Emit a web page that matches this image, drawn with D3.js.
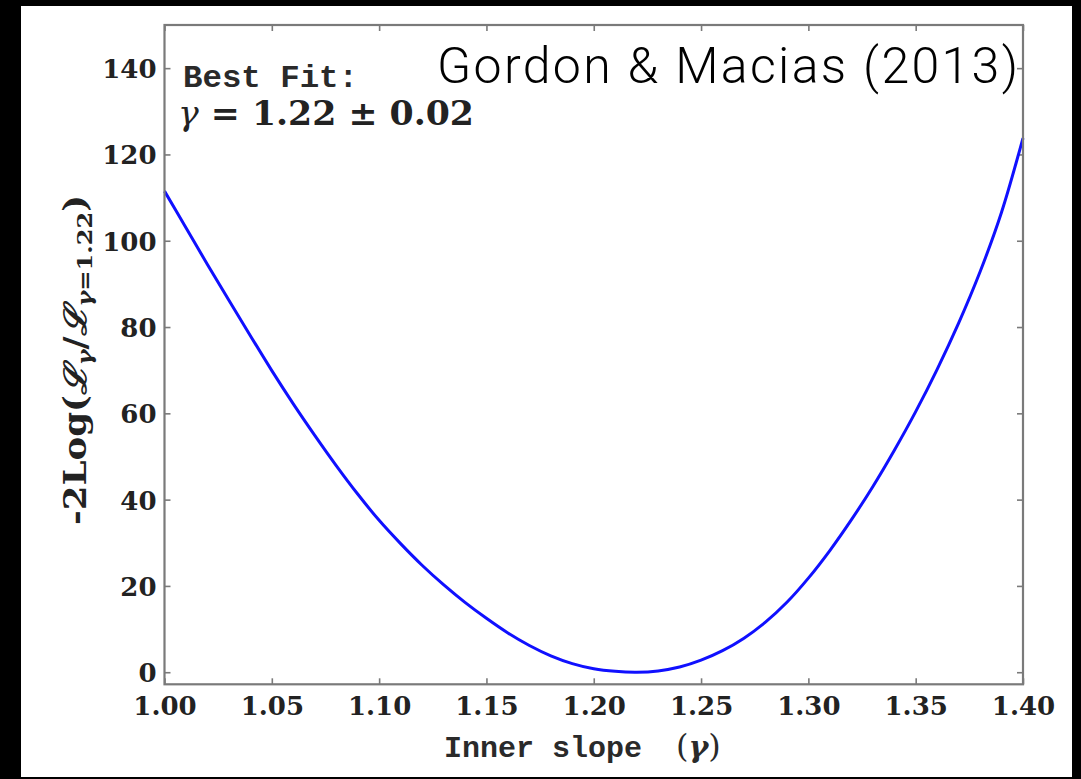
<!DOCTYPE html>
<html>
<head>
<meta charset="utf-8">
<script src="https://cdn.jsdelivr.net/npm/d3@7"></script>
<style>
  html, body { margin: 0; padding: 0; background: #000; }
  svg { display: block; }
</style>
</head>
<body>
<svg id="chart" width="1081" height="779"></svg>
<script>
// Profile likelihood of the inner slope of the dark-matter density profile
const gammaValues = [
  1.00, 1.01, 1.02, 1.03, 1.04, 1.05, 1.06, 1.07, 1.08, 1.09,
  1.10, 1.11, 1.12, 1.13, 1.14, 1.15, 1.16, 1.17, 1.18, 1.19,
  1.20, 1.21, 1.22, 1.23, 1.24, 1.25, 1.26, 1.27, 1.28, 1.29,
  1.30, 1.31, 1.32, 1.33, 1.34, 1.35, 1.36, 1.37, 1.38, 1.39, 1.40
];
const logLikeRatio = [
  111.5, 103.0, 94.5, 86.2, 78.0, 69.9, 62.2, 54.9, 47.9, 41.3,
  35.2, 29.8, 24.8, 20.3, 16.2, 12.5, 9.1, 6.2, 3.8, 2.0,
  0.8, 0.2, 0.0, 0.3, 1.2, 2.8, 5.0, 7.9, 11.6, 16.2,
  21.8, 28.2, 35.3, 43.0, 51.4, 60.4, 70.2, 80.9, 92.8, 106.6, 123.8
];
const xTickValues = [1.00, 1.05, 1.10, 1.15, 1.20, 1.25, 1.30, 1.35, 1.40];
const yTickValues = [0, 20, 40, 60, 80, 100, 120, 140];

const svg = d3.select("#chart");

// white page behind the figure
svg.append("rect").attr("x", 21).attr("y", 6)
  .attr("width", 1051).attr("height", 771).attr("fill", "#fff");

const plot = { left: 164.5, right: 1023, top: 25, bottom: 684.3 };

const x = d3.scaleLinear().domain([1.0, 1.4]).range([plot.left, plot.right]);
const y = d3.scaleLinear().domain([-2.8, 150]).range([plot.bottom, plot.top]);

const tickColor = "#7a7a7a";
const serifFont = "'DejaVu Serif', serif";

function styleAxis(g) {
  g.select(".domain").remove();
  g.selectAll(".tick line").attr("stroke", tickColor).attr("stroke-width", 1.6);
}

// bottom axis with labels
svg.append("g")
  .attr("transform", `translate(0,${plot.bottom})`)
  .call(d3.axisBottom(x).tickValues(xTickValues).tickSizeInner(-6).tickSizeOuter(0)
    .tickPadding(12).tickFormat(d3.format(".2f")))
  .call(styleAxis)
  .call(g => g.selectAll(".tick text")
    .attr("font-family", serifFont).attr("font-weight", "bold")
    .attr("font-size", 26).attr("fill", "#222").attr("dy", "0.71em"));

// top axis, ticks only
svg.append("g")
  .attr("transform", `translate(0,${plot.top})`)
  .call(d3.axisTop(x).tickValues(xTickValues).tickSizeInner(-6).tickSizeOuter(0).tickFormat(""))
  .call(styleAxis);

// left axis with labels
svg.append("g")
  .attr("transform", `translate(${plot.left},0)`)
  .call(d3.axisLeft(y).tickValues(yTickValues).tickSizeInner(-6).tickSizeOuter(0)
    .tickPadding(8).tickFormat(d3.format("d")))
  .call(styleAxis)
  .call(g => g.selectAll(".tick text")
    .attr("font-family", serifFont).attr("font-weight", "bold")
    .attr("font-size", 26).attr("fill", "#222").attr("dy", "0.36em"));

// right axis, ticks only
svg.append("g")
  .attr("transform", `translate(${plot.right},0)`)
  .call(d3.axisRight(y).tickValues(yTickValues).tickSizeInner(-6).tickSizeOuter(0).tickFormat(""))
  .call(styleAxis);

// likelihood curve
const points = gammaValues.map((g, i) => [g, logLikeRatio[i]]);
const line = d3.line().x(d => x(d[0])).y(d => y(d[1])).curve(d3.curveCatmullRom.alpha(0.5));
svg.append("path")
  .datum(points)
  .attr("d", line)
  .attr("fill", "none")
  .attr("stroke", "#1010ff")
  .attr("stroke-width", 3)
  .attr("stroke-linejoin", "round");

// plot frame
svg.append("rect")
  .attr("x", plot.left).attr("y", plot.top)
  .attr("width", plot.right - plot.left).attr("height", plot.bottom - plot.top)
  .attr("fill", "none").attr("stroke", tickColor).attr("stroke-width", 2.2);

// best-fit annotation
svg.append("text")
  .attr("x", 183).attr("y", 87)
  .attr("font-family", "'Liberation Mono', 'DejaVu Sans Mono', monospace")
  .attr("font-weight", "bold").attr("font-size", 32).attr("fill", "#2a2a2a")
  .attr("textLength", 175).attr("lengthAdjust", "spacingAndGlyphs")
  .text("Best Fit:");

const fit = svg.append("text")
  .attr("x", 178).attr("y", 125)
  .attr("font-family", serifFont).attr("font-weight", "bold")
  .attr("font-size", 33).attr("fill", "#222")
  .attr("textLength", 296).attr("lengthAdjust", "spacingAndGlyphs");
fit.append("tspan").attr("font-style", "italic").attr("font-weight", "normal").text("γ");
fit.append("tspan").text(" = 1.22 ± 0.02");

// citation
svg.append("text")
  .attr("x", 437).attr("y", 83)
  .attr("font-family", "Roboto, Inter, Lato, 'Noto Sans', sans-serif")
  .attr("font-weight", 300).attr("font-size", 50).attr("fill", "#000")
  .attr("textLength", 581).attr("lengthAdjust", "spacing")
  .text("Gordon & Macias (2013)");

// x-axis title
const xt = svg.append("text")
  .attr("x", 444).attr("y", 757)
  .attr("font-family", "'Liberation Mono', 'DejaVu Sans Mono', monospace")
  .attr("font-weight", "bold").attr("font-size", 30).attr("fill", "#2a2a2a");
xt.append("tspan").text("Inner slope");
xt.append("tspan").attr("x", 676).attr("font-family", serifFont)
  .attr("font-weight", "normal").attr("font-size", 32).text("(");
xt.append("tspan").attr("font-family", serifFont).attr("font-style", "italic")
  .attr("font-weight", "bold").attr("font-size", 30).text("γ");
xt.append("tspan").attr("font-family", serifFont)
  .attr("font-weight", "normal").attr("font-size", 32).text(")");

// y-axis title
const yt = svg.append("text")
  .attr("transform", "translate(86,360) rotate(-90)")
  .attr("text-anchor", "middle")
  .attr("font-family", serifFont).attr("font-weight", "bold")
  .attr("font-size", 31).attr("fill", "#222")
  .attr("textLength", 330).attr("lengthAdjust", "spacingAndGlyphs");
yt.append("tspan").text("-2Log(");
yt.append("tspan").attr("font-style", "italic").text("ℒ");
yt.append("tspan").attr("font-size", 21).attr("font-style", "italic").attr("dy", 6).text("γ");
yt.append("tspan").attr("dy", -6).text("/");
yt.append("tspan").attr("font-style", "italic").text("ℒ");
yt.append("tspan").attr("font-size", 21).attr("dy", 6).attr("font-style", "italic").text("γ");
yt.append("tspan").attr("font-size", 21).text("=1.22");
yt.append("tspan").attr("dy", -6).text(")");
</script>
</body>
</html>
